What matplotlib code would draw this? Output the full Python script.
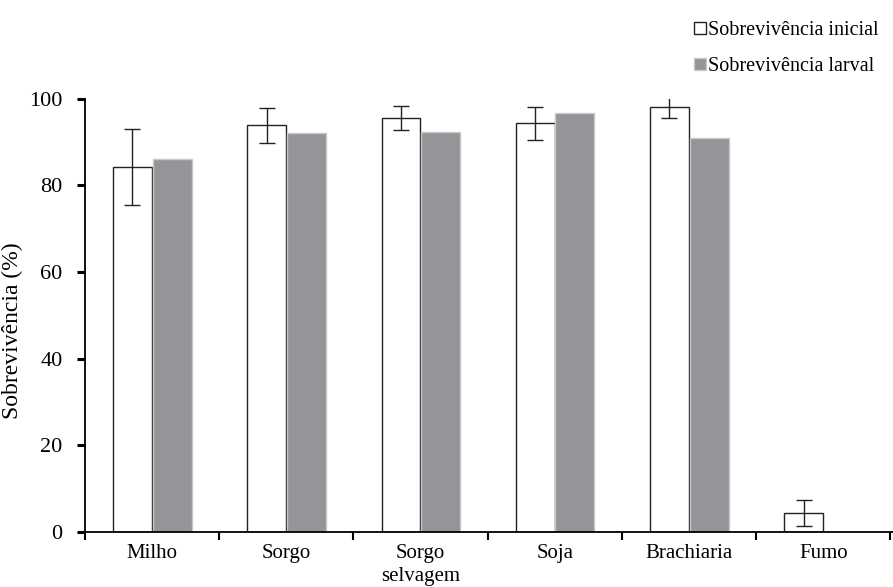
import matplotlib.pyplot as plt
import numpy as np

plt.rcParams['font.family'] = ['Liberation Serif', 'DejaVu Serif']

# data
categories = ["Milho", "Sorgo", "Sorgo\nselvagem", "Soja", "Brachiaria", "Fumo"]
inicial = [84.3, 93.8, 95.5, 94.3, 98.0, 4.3]
inicial_err = [8.8, 4.0, 2.8, 3.8, 2.5, 3.0]
larval = [86.1, 92.0, 92.4, 96.7, 90.8, 0.0]

x = np.arange(len(categories))
w = 0.29

fig = plt.figure(figsize=(8.93, 5.87), dpi=100)
ax = fig.add_axes([0.095, 0.094, 0.905, 0.738])

ax.bar(x - 0.145, inicial, w, color="white", edgecolor="#222222", linewidth=1.0,
       yerr=inicial_err, error_kw=dict(ecolor="#222222", elinewidth=1.0, capsize=6, capthick=1.0),
       label="Sobrevivência inicial")
ax.bar(x + 0.15, larval, w, color="#939598", edgecolor="#c8c8c8", linewidth=1.0,
       label="Sobrevivência larval")

ax.set_xlim(-0.5, 5.52)
ax.set_ylim(0, 100)
ax.set_yticks([0, 20, 40, 60, 80, 100])
ax.set_xticks(x)
ax.set_xticklabels(categories, fontsize=15, linespacing=1.25)
ax.set_xticks(np.arange(-0.5, 6.0, 1.0), minor=True)
ax.tick_params(axis="x", which="major", length=0, pad=9)
ax.tick_params(axis="x", which="minor", length=6, width=1.5, direction="out")
ax.tick_params(axis="y", length=6, width=2.2, labelsize=16, pad=10)
ax.set_ylabel("Sobrevivência (%)", fontsize=17)
ax.yaxis.set_label_coords(-0.076, 0.465)

for s in ["top", "right"]:
    ax.spines[s].set_visible(False)
ax.spines["left"].set_linewidth(1.3)
ax.spines["bottom"].set_linewidth(1.3)

fig.legend(loc="upper right", bbox_to_anchor=(1.004, 0.995), frameon=False,
           fontsize=14.5, handlelength=0.6, handleheight=0.6, handletextpad=0.1,
           labelspacing=0.85)

plt.savefig("out.png", dpi=100)
